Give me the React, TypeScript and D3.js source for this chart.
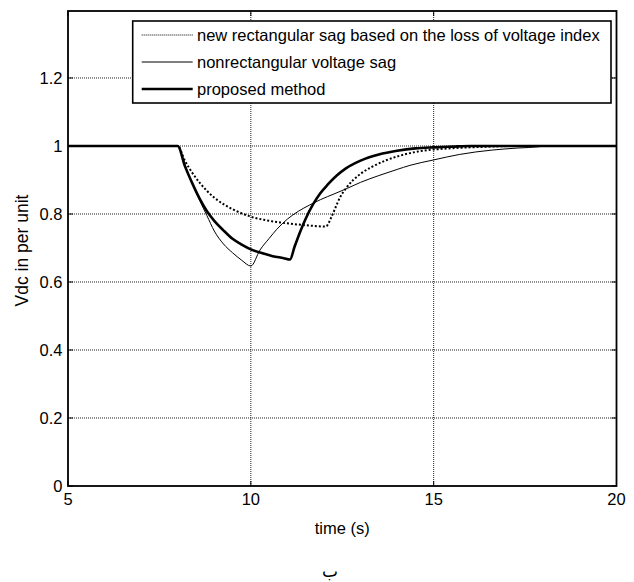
import React from "react";
import * as d3 from "d3";

const timeTicks = [5, 10, 15, 20];
const voltTicks = [0, 0.2, 0.4, 0.6, 0.8, 1, 1.2];

const legendLabels = [
  "new rectangular sag based on the loss of voltage index",
  "nonrectangular voltage sag",
  "proposed method",
];

// new rectangular sag (dotted)
const rectT = [5, 8, 8.2, 8.4, 8.6, 8.8, 9.0, 9.25, 9.5, 9.75, 10, 10.4, 10.8, 11.2, 11.6, 12.05, 12.2, 12.3, 12.45, 12.6, 12.8, 13.0, 13.3, 13.7, 14.2, 14.7, 15.3, 16, 16.8, 17.2, 20];
const rectV = [1, 1, 0.956, 0.921, 0.892, 0.868, 0.848, 0.829, 0.814, 0.802, 0.792, 0.782, 0.775, 0.77, 0.766, 0.763, 0.79, 0.815, 0.851, 0.875, 0.9, 0.918, 0.938, 0.958, 0.975, 0.986, 0.992, 0.996, 0.999, 1, 1];

// nonrectangular voltage sag (thin)
const nonRectT = [5, 8, 8.2, 8.4, 8.6, 8.8, 9.0, 9.25, 9.5, 9.75, 10, 10.25, 10.5, 10.71, 11.0, 11.3, 11.6, 11.9, 12.3, 12.65, 13.0, 13.5, 14, 14.35, 15, 15.7, 16.6, 17.3, 17.9, 18, 20];
const nonRectV = [1, 1, 0.945, 0.89, 0.84, 0.795, 0.75, 0.712, 0.686, 0.664, 0.647, 0.694, 0.728, 0.755, 0.785, 0.808, 0.826, 0.842, 0.86, 0.876, 0.893, 0.913, 0.931, 0.943, 0.959, 0.975, 0.988, 0.994, 0.998, 1, 1];

// proposed method (thick)
const propT = [5, 8, 8.2, 8.4, 8.6, 8.8, 9.0, 9.25, 9.5, 9.75, 10, 10.3, 10.6, 10.9, 11.07, 11.2, 11.35, 11.5, 11.7, 11.9, 12.1, 12.35, 12.6, 13, 13.5, 14, 14.5, 15, 15.5, 16, 20];
const propV = [1, 1, 0.94, 0.89, 0.845, 0.808, 0.78, 0.752, 0.727, 0.71, 0.696, 0.685, 0.676, 0.67, 0.666, 0.705, 0.748, 0.786, 0.828, 0.861, 0.886, 0.913, 0.934, 0.957, 0.975, 0.986, 0.993, 0.996, 0.998, 1, 1];

const W = 634;
const H = 582;
const left = 68;
const right = 616.5;
const top = 11;
const bottom = 486;
const FONT = "'Liberation Sans', Arial, Helvetica, sans-serif";
const FS = 16.5;

export default function App() {
  const x = d3.scaleLinear().domain([5, 20]).range([left, right]);
  const y = d3.scaleLinear().domain([0, 1.397]).range([bottom, top]);

  const mk = (ts: number[], vs: number[]) =>
    d3
      .line<number>()
      .x((_, i) => x(ts[i]))
      .y((_, i) => y(vs[i]))
      .curve(d3.curveMonotoneX)(ts) as string;

  const legX = 132.7;
  const legY = 21;
  const legW = 611 - 132.7;
  const legH = 82;
  const rowY = [35, 62, 89];

  return (
    <svg
      width={W}
      height={H}
      style={{ position: "absolute", left: 0, top: 0, background: "#fff" }}
      fontFamily={FONT}
    >
      <rect x={0} y={0} width={W} height={H} fill="#fff" />
      {/* grid */}
      <g stroke="#222" strokeWidth={1} strokeDasharray="1 1">
        {timeTicks.slice(1, -1).map((t) => (
          <line key={"gx" + t} x1={x(t)} x2={x(t)} y1={top} y2={bottom} />
        ))}
        {voltTicks.slice(1).map((v) => (
          <line key={"gy" + v} x1={left} x2={right} y1={y(v)} y2={y(v)} />
        ))}
      </g>
      {/* curves */}
      <path d={mk(rectT, rectV)} fill="none" stroke="#000" strokeWidth={2} strokeDasharray="2 2" />
      <path d={mk(nonRectT, nonRectV)} fill="none" stroke="#000" strokeWidth={1} />
      <path d={mk(propT, propV)} fill="none" stroke="#000" strokeWidth={2.6} strokeLinejoin="round" />
      {/* ticks */}
      <g stroke="#000" strokeWidth={1}>
        {timeTicks.map((t) => (
          <g key={"tx" + t}>
            <line x1={x(t)} x2={x(t)} y1={bottom} y2={bottom - 5} />
            <line x1={x(t)} x2={x(t)} y1={top} y2={top + 5} />
          </g>
        ))}
        {voltTicks.map((v) => (
          <g key={"ty" + v}>
            <line x1={left} x2={left + 5} y1={y(v)} y2={y(v)} />
            <line x1={right} x2={right - 5} y1={y(v)} y2={y(v)} />
          </g>
        ))}
      </g>
      {/* box */}
      <rect x={left} y={top} width={right - left} height={bottom - top} fill="none" stroke="#000" strokeWidth={1.8} />
      {/* tick labels */}
      <g fontSize={FS} fill="#000">
        {timeTicks.map((t) => (
          <text key={"lx" + t} x={x(t)} y={505} textAnchor="middle">
            {t}
          </text>
        ))}
        {voltTicks.map((v) => (
          <text key={"ly" + v} x={62.5} y={y(v) + 6} textAnchor="end">
            {v}
          </text>
        ))}
      </g>
      <text x={(left + right) / 2} y={534} textAnchor="middle" fontSize={FS}>
        time (s)
      </text>
      <text
        transform={`translate(28, ${(top + bottom) / 2 + 2}) rotate(-90)`}
        textAnchor="middle"
        fontSize={17.5}
      >
        Vdc in per unit
      </text>
      {/* legend */}
      <rect x={legX} y={legY} width={legW} height={legH} fill="#fff" stroke="#000" strokeWidth={1.6} />
      <line x1={141.7} x2={192.7} y1={rowY[0]} y2={rowY[0]} stroke="#000" strokeWidth={1.2} strokeDasharray="1 1" />
      <line x1={141.7} x2={192.7} y1={rowY[1]} y2={rowY[1]} stroke="#000" strokeWidth={1} />
      <line x1={141.7} x2={192.7} y1={rowY[2]} y2={rowY[2]} stroke="#000" strokeWidth={2.6} />
      {legendLabels.map((l, i) => (
        <text key={l} x={197} y={rowY[i] + 6} fontSize={FS}>
          {l}
        </text>
      ))}
      <text x={330} y={577} textAnchor="middle" fontSize={17} fontFamily="'DejaVu Sans', 'Noto Sans', sans-serif">
        ب
      </text>
    </svg>
  );
}
